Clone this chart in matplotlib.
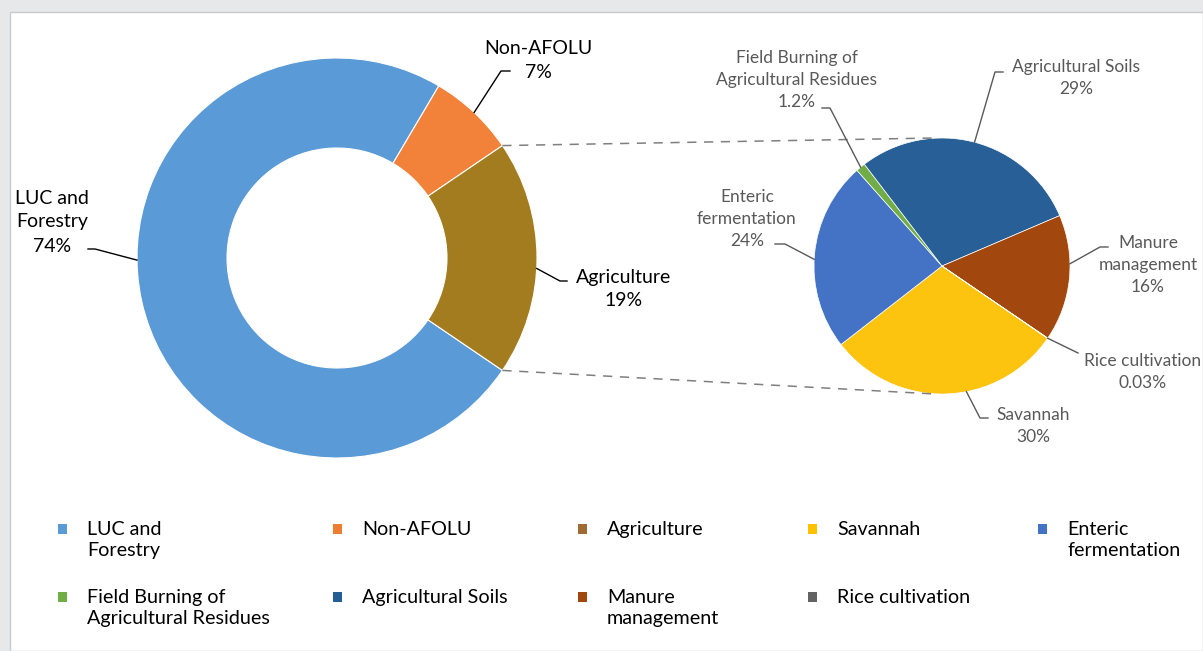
import numpy as np
import matplotlib.pyplot as plt
from matplotlib.patches import Rectangle

plt.rcParams['font.family'] = ['Lato', 'DejaVu Sans']

# Donnees du graphique
main_labels = ['LUC and\nForestry', 'Non-AFOLU', 'Agriculture']
main_values = [74, 7, 19]
main_colors = ['#5a9bd7', '#f2823a', '#a27c1e']

sub_labels = ['Savannah', 'Enteric\nfermentation', 'Field Burning of\nAgricultural Residues',
              'Agricultural Soils', 'Manure\nmanagement', 'Rice cultivation']
sub_values = [30, 24, 1.2, 29, 16, 0.03]
sub_colors = ['#fcc30f', '#4472c4', '#70ad47', '#285f96', '#a2480f', '#636363']

legend_colors = ['#5b9bd5', '#ed7d31', '#9e6b35', '#ffc000', '#4472c4',
                 '#70ad47', '#255e91', '#9e480e', '#636363']

W, H = 1203, 651


def fmt_pct(v):
    if v >= 10 or float(v).is_integer():
        return f'{v:.0f}%'
    if v < 0.1:
        return f'{v:.2f}%'
    return f'{v:.1f}%'


def py(y):
    # coordonnee pixel (origine en haut) -> axe
    return H - y


fig = plt.figure(figsize=(W / 100, H / 100), dpi=100)
fig.patch.set_facecolor('#e7e8ea')
ax = fig.add_axes([0, 0, 1, 1])

# panneau blanc
ax.add_patch(Rectangle((10, 0), W - 10, H - 12, facecolor='white', edgecolor='#c9cacc', lw=1, zorder=0))

# anneau principal
c1, r1 = (337, py(258)), 200
start1 = -main_values[2] / sum(main_values) * 180
ax.pie(main_values, radius=r1, center=c1, startangle=start1, counterclock=False,
       colors=main_colors, wedgeprops=dict(width=90, edgecolor='white', linewidth=0.8))

# camembert secondaire
c2, r2 = (942, py(266)), 128
start2 = -34.4
ax.pie(sub_values, radius=r2, center=c2, startangle=start2, counterclock=False,
       colors=sub_colors, wedgeprops=dict(edgecolor='white', linewidth=0.5))

# lignes de liaison
for a in (start1, -start1):
    x0 = c1[0] + r1 * np.cos(np.radians(a))
    y0 = c1[1] + r1 * np.sin(np.radians(a))
    ax.plot([x0, c2[0] - 7], [y0, c2[1] + np.sign(a) * r2], ls=(0, (6, 5)), color='#7f7f7f', lw=1.1)


def mid_angles(values, start):
    tot = sum(values)
    cum = np.cumsum([0] + list(values))
    return [start - (cum[i] + values[i] / 2) / tot * 360 for i in range(len(values))]


# etiquettes: (centre du texte, coude, fin du trait)
main_pos = [((52, 222), (95, 249), (88, 249)),
            ((538, 60), (501, 71), (510, 71)),
            ((624, 289), (560, 281), (567, 281))]
sub_pos = [((1033, 426), (980, 418), (988, 418)),
           ((747, 219), (785, 244), (775, 244)),
           ((797, 80), (830, 108), (822, 108)),
           ((1076, 78), (995, 72), (1003, 72)),
           ((1148, 265), (1100, 247), (1108, 247)),
           ((1143, 372), (1078, 353), (1078, 353))]
main_anchor = [-179.4, 46.7, -3]
sub_anchor = [-79, 177, None, None, 1, None]

for i, (lab, v) in enumerate(zip(main_labels, main_values)):
    (tx, ty), (ex, ey), (fx, fy) = main_pos[i]
    a = np.radians(main_anchor[i])
    ax.plot([c1[0] + r1 * np.cos(a), ex, fx], [c1[1] + r1 * np.sin(a), py(ey), py(fy)], color='black', lw=1)
    ax.text(tx, py(ty), lab + '\n' + fmt_pct(v), ha='center', va='center', fontsize=14,
            color='black', linespacing=1.5)

sub_mid = mid_angles(sub_values, start2)
for i, (lab, v) in enumerate(zip(sub_labels, sub_values)):
    (tx, ty), (ex, ey), (fx, fy) = sub_pos[i]
    ang = sub_anchor[i] if sub_anchor[i] is not None else sub_mid[i]
    a = np.radians(ang)
    ax.plot([c2[0] + r2 * np.cos(a), ex, fx], [c2[1] + r2 * np.sin(a), py(ey), py(fy)], color='#595959', lw=1)
    ax.text(tx, py(ty), lab + '\n' + fmt_pct(v), ha='center', va='center', fontsize=12.5,
            color='#595959', linespacing=1.45)

# legende
leg_labels = main_labels + sub_labels
col_x = [62, 337, 582, 812, 1042]
row_y = [529, 597]
for i, (lab, col) in enumerate(zip(leg_labels, legend_colors)):
    x = col_x[i % 5]
    y = row_y[i // 5]
    ax.add_patch(Rectangle((x - 4, py(y) - 5), 9, 10, facecolor=col, edgecolor='none'))
    ax.text(x + 25, py(y) + 8, lab, ha='left', va='top', fontsize=14.2, color='black', linespacing=1.32)

ax.set_xlim(0, W)
ax.set_ylim(0, H)
ax.set_aspect('equal')
ax.axis('off')

fig.savefig('out.png', dpi=100, facecolor=fig.get_facecolor())
